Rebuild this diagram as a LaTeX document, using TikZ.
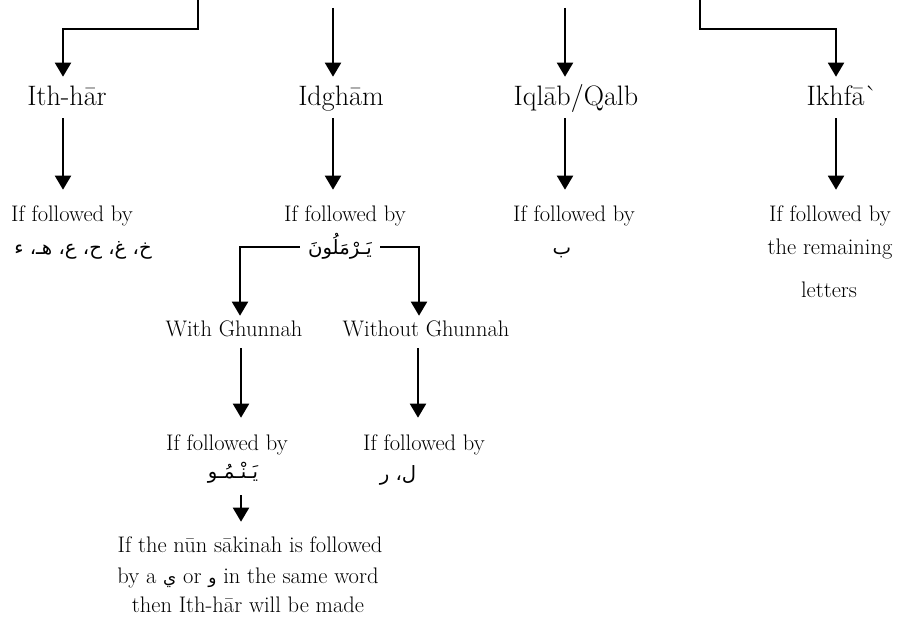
\documentclass[tikz,border=0pt]{standalone}
\usepackage{fontspec}
\usepackage{tikz}
\usetikzlibrary{arrows.meta}
\newfontfamily\arabicfont[Script=Arabic]{DejaVu Sans}
\TeXXeTstate=1

\tikzset{
    arr/.style={-{Triangle[width=0.4cm,length=0.35cm]}, line width=1.4pt},
    title/.style={font=\fontsize{20}{22}\selectfont, inner sep=0pt, anchor=base, text height=0.725cm, text depth=0.3cm},
    cond/.style={font=\fontsize{16}{18}\selectfont, inner sep=0pt, anchor=base},
    arab/.style={font=\fontsize{14}{16}\selectfont\arabicfont, inner sep=0pt, anchor=base, text height=0.5cm, text depth=0.1cm}
}

\begin{document}
\begin{tikzpicture}[x=0.025cm, y=-0.025cm]
    \useasboundingbox (0,0) rectangle (905,629);

    % Top
    \coordinate (t1) at (198,0);
    \coordinate (t2) at (333,8);
    \coordinate (t3) at (565,8);
    \coordinate (t4) at (700,0);

    \node[title] (izhar) at (67,106) {Ith-hār};
    \node[title] (idgham) at (341,106) {Idghām};
    \node[title] (iqlab) at (576,106) {Iqlāb/Qalb};
    \node[title] (ikhfa) at (842,106) {Ikhfā\textasciigrave};

    \draw[arr] (t1) -- ++(0,29) -| ([xshift=-0.1cm]izhar.north);
    \draw[arr] (t2) -- (t2 |- idgham.north);
    \draw[arr] (t3) -- (t3 |- iqlab.north);
    \draw[arr] (t4) -- ++(0,29) -| ([xshift=-0.15cm]ikhfa.north);

    % Second level
    \node[cond, text height=0.8cm] (izharIf) at (72,222) {If followed by};
    \node[cond, text height=0.8cm] (idghamIf) at (345,222) {If followed by};
    \node[cond, text height=0.8cm] (iqlabIf) at (574,222) {If followed by};
    \node[cond, text height=0.8cm] (ikhfaIf) at (830,222) {If followed by};

    \node[arab] (izharL) at (83,255) {\beginR خ، غ، ح، ع، هـ، ء\endR};
    \node[arab, inner xsep=0.2cm] (idghamL) at (340,255) {\beginR يَـرْمَلُونَ\endR};
    \node[arab] (iqlabL) at (562,255) {ب};
    \node[cond] (ikhfaL1) at (830,255) {the remaining};
    \node[cond] (ikhfaL2) at (829,297) {letters};

    \draw[arr] ([xshift=-0.1cm]izhar.south) -- ([xshift=-0.1cm]izhar.south |- izharIf.north);
    \draw[arr] ([xshift=-0.2cm]idgham.south) -- ([xshift=-0.2cm]idgham.south |- idghamIf.north);
    \draw[arr] ([xshift=-0.275cm]iqlab.south) -- ([xshift=-0.275cm]iqlab.south |- iqlabIf.north);
    \draw[arr] ([xshift=-0.15cm]ikhfa.south) -- ([xshift=-0.15cm]ikhfa.south |- ikhfaIf.north);

    % Idgham branches
    \node[cond, text height=0.5cm, text depth=0.3cm] (withG) at (234,336) {With Ghunnah};
    \node[cond, text height=0.5cm, text depth=0.3cm] (withoutG) at (426,336) {Without Ghunnah};

    \draw[arr] (idghamL.west) -| ([xshift=0.15cm]withG.north);
    \draw[arr] (idghamL.east) -| ([xshift=-0.175cm]withoutG.north);

    \node[cond, text height=0.8cm] (withGIf) at (227,450) {If followed by};
    \node[cond, text height=0.8cm] (withoutGIf) at (424,450) {If followed by};
    \node[arab, text depth=0.425cm] (withGL) at (233,478) {\beginR يَـنْـمُـو\endR};
    \node[arab] (withoutGL) at (398,480) {\beginR ل، ر\endR};

    \draw[arr] ([xshift=0.175cm]withG.south) -- ([xshift=0.175cm]withG.south |- withGIf.north);
    \draw[arr] ([xshift=-0.2cm]withoutG.south) -- ([xshift=-0.2cm]withoutG.south |- withoutGIf.north);

    % Note
    \node[cond, text height=0.75cm] (note1) at (250,552) {If the nūn sākinah is followed};
    \node[cond] (note2) at (248,583) {by a {\arabicfont\fontsize{12}{14}\selectfont ي} or {\arabicfont\fontsize{12}{14}\selectfont و} in the same word};
    \node[cond] (note3) at (248,612) {then Ith-hār will be made};

    \draw[arr] ([xshift=0.2cm]withGL.south) -- ([xshift=0.2cm]withGL.south |- note1.north);

\end{tikzpicture}
\end{document}
